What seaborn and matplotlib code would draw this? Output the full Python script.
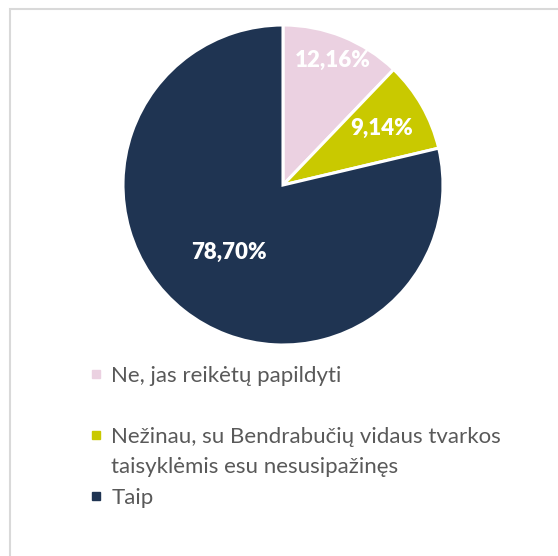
import matplotlib
matplotlib.use("Agg")
import matplotlib.pyplot as plt
import seaborn as sns
from matplotlib.lines import Line2D
from matplotlib.patches import Rectangle
import numpy as np

# duomenys
categories = ["Ne, jas reikėtų papildyti",
              "Nežinau, su Bendrabučių vidaus tvarkos\ntaisyklėmis esu nesusipažinęs",
              "Taip"]
values = [12.16, 9.14, 78.70]
colors = ["#EBD1E1", "#C9C900", "#1F3452"]
label_dist = [0.84, 0.71, 0.54]

sns.set_style("white")
plt.rcParams['font.family'] = ['Lato', 'DejaVu Sans']

fig = plt.figure(figsize=(5.58, 5.56), dpi=100)

# rėmelis
fig.patches.append(Rectangle((10 / 558, -0.1), 1.2, 1 - 9 / 556 + 0.1, transform=fig.transFigure,
                             fill=False, edgecolor="#D9D9D9", linewidth=1.5))

ax = fig.add_axes([(283 - 160) / 558, (556 - 345) / 556, 320 / 558, 320 / 556])
wedges, _ = ax.pie(values, colors=colors, startangle=90, counterclock=False,
                   wedgeprops=dict(edgecolor="white", linewidth=2.2))
ax.set_xlim(-1, 1)
ax.set_ylim(-1, 1)
ax.set_aspect("equal")
ax.axis("off")

# procentai
for w, v, d in zip(wedges, values, label_dist):
    ang = np.deg2rad((w.theta1 + w.theta2) / 2)
    ax.text(d * np.cos(ang), d * np.sin(ang), f"{v:.2f}%".replace(".", ","),
            ha="center", va="center", color="white", fontsize=16, fontweight="heavy")

# legenda
handles = [Line2D([], [], marker="s", linestyle="none", markersize=6, color=colors[0]),
           Line2D([], [], linestyle="none"),
           Line2D([], [], marker="s", linestyle="none", markersize=6, color=colors[1]),
           Line2D([], [], linestyle="none"),
           Line2D([], [], marker="s", linestyle="none", markersize=6, color=colors[2])]
labels = [categories[0], "", categories[1].split("\n")[0], categories[1].split("\n")[1], categories[2]]
fig.legend(handles, labels, loc="upper left", bbox_to_anchor=(88 / 558, 1 - 366 / 556),
           frameon=False, fontsize=16, labelcolor="#595959", handlelength=0.7,
           handletextpad=0.35, labelspacing=0.47, borderaxespad=0, borderpad=0)

fig.savefig("out.png", dpi=100)
